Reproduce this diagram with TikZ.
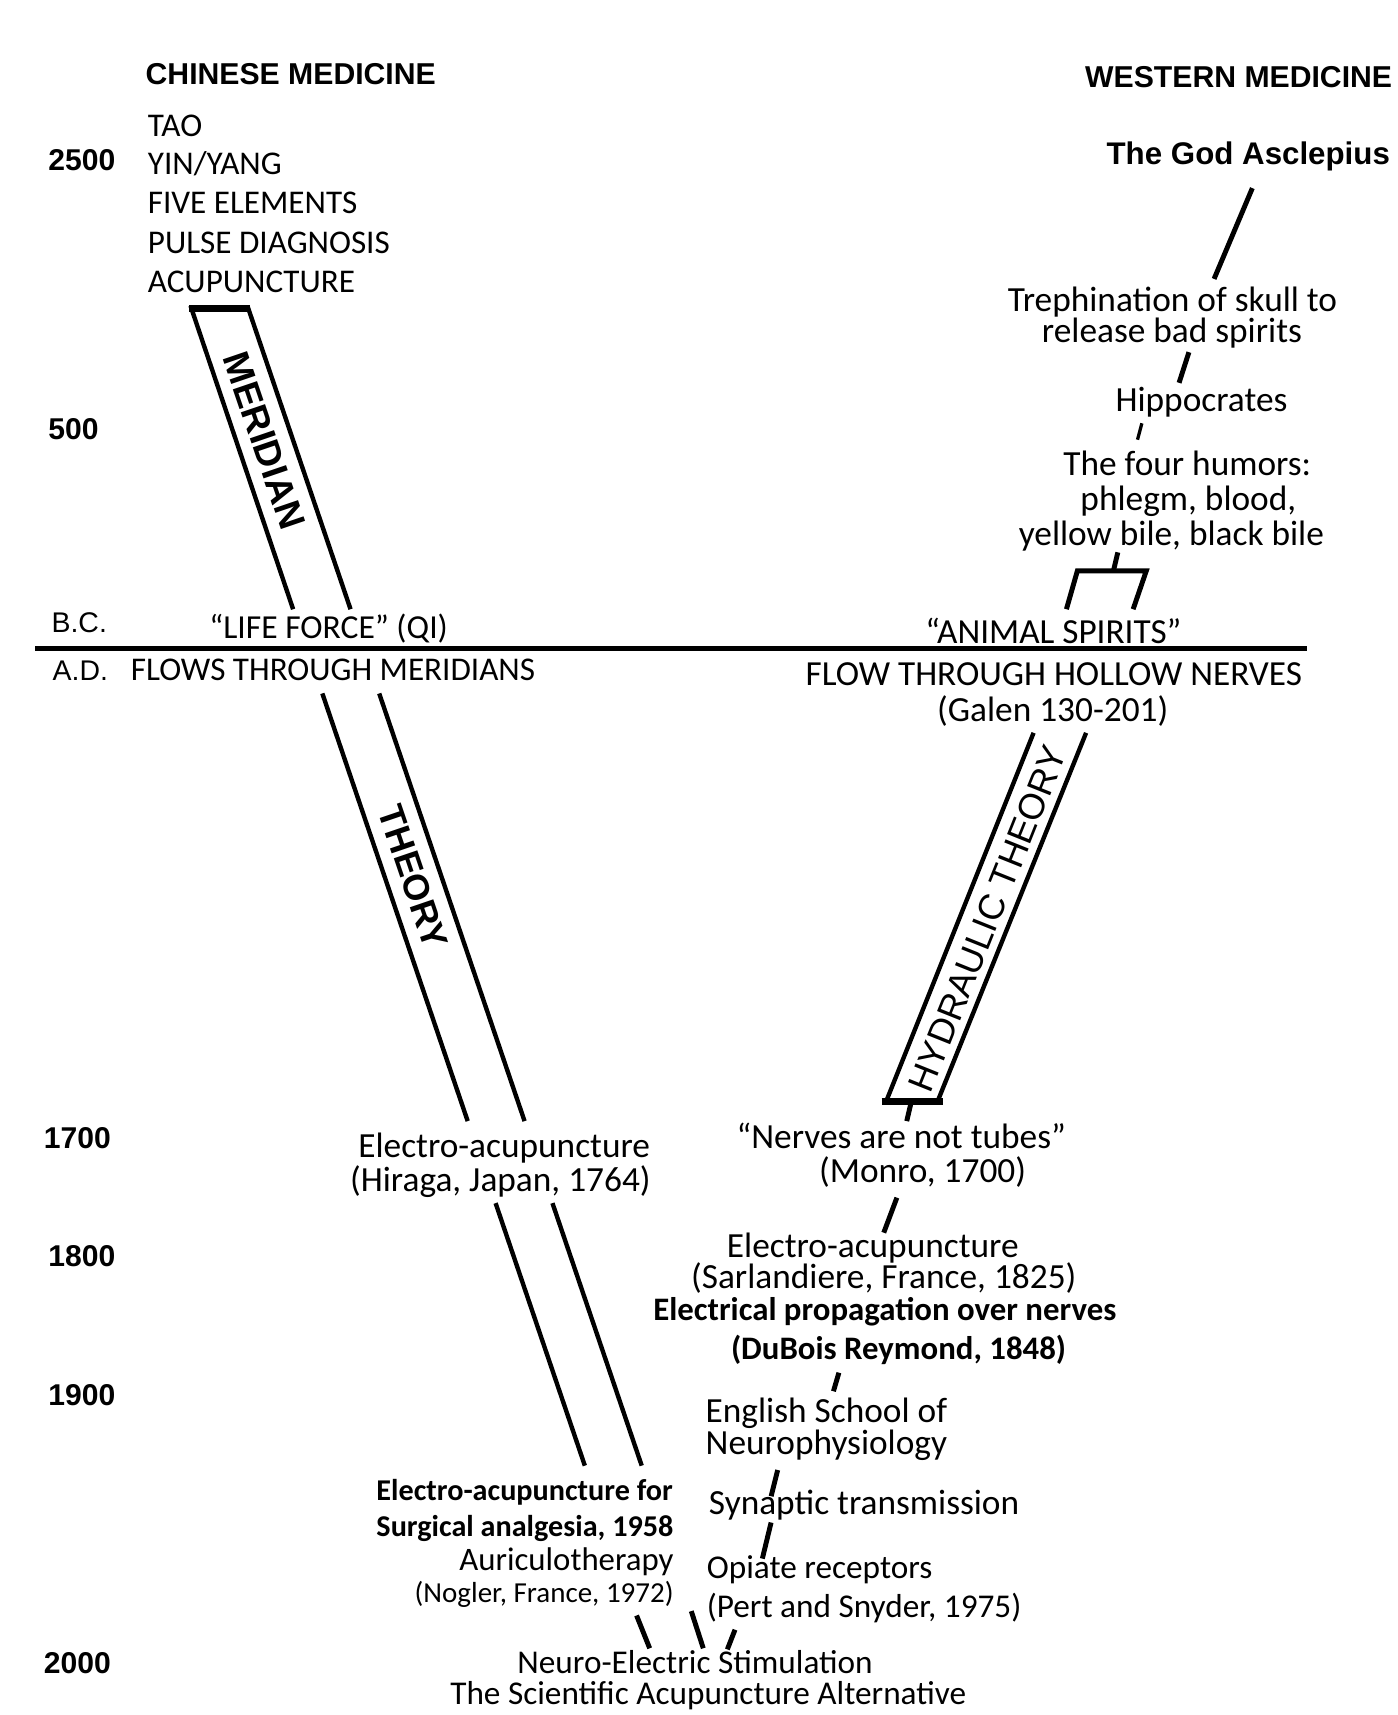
\documentclass[tikz,border=0pt]{standalone}
\usepackage{fontspec}
\setmainfont{Carlito}
\newfontfamily\arialf{Liberation Sans}
\begin{document}
\begin{tikzpicture}[x=1pt,y=-1pt,
  hd/.style={font=\arialf\bfseries\fontsize{27.6}{30}\selectfont, inner sep=0pt},
  yr/.style={font=\arialf\bfseries\fontsize{27.5}{30}\selectfont, inner sep=0pt, anchor=base west},
  era/.style={font=\arialf\fontsize{26}{30}\selectfont, inner sep=0pt, anchor=base west},
  caps/.style={font=\fontsize{30.3}{30}\selectfont, inner sep=0pt},
  bigcaps/.style={font=\fontsize{32.2}{32}\selectfont, inner sep=0pt},
  txt/.style={font=\fontsize{32.3}{32}\selectfont, inner sep=0pt},
  stxt/.style={font=\fontsize{30.4}{30}\selectfont, inner sep=0pt},
  btxt/.style={font=\bfseries\fontsize{30}{30}\selectfont, inner sep=0pt},
  band/.style={line width=4pt},
  bandlbl/.style={font=\arialf\fontsize{33}{33}\selectfont, inner sep=0pt},
  conn/.style={line width=4.5pt}
]
\path[use as bounding box, fill=white] (0,0) rectangle (1278,1568);

% headings
\node[hd, anchor=base west] (chn) at (133,77) {CHINESE MEDICINE};
\node[hd, anchor=base east] (wst) at (1273,80) {WESTERN MEDICINE};
\node[hd, font=\arialf\bfseries\fontsize{28.6}{30}\selectfont, anchor=base east] (god) at (1271,150) {The God Asclepius};

% chinese list
\node[caps, anchor=base west] (tao) at (135,124.5) {TAO};
\node[caps, anchor=base west] (yin) at (135,159.5) {YIN/YANG};
\node[caps, anchor=base west] (five) at (135,195.5) {FIVE ELEMENTS};
\node[caps, anchor=base west] (pulse) at (135,231.5) {PULSE DIAGNOSIS};
\node[caps, anchor=base west] (acu) at (135,267.5) {ACUPUNCTURE};

% years
\node[yr] (y2500) at (44,156) {2500};
\node[yr] (y500) at (44,402) {500};
\node[era] (bc) at (47,578) {B.C.};
\node[era] (ad) at (48,622) {A.D.};
\node[yr] (y1700) at (40,1050) {1700};
\node[yr] (y1800) at (44,1158) {1800};
\node[yr] (y1900) at (44,1285) {1900};
\node[yr] (y2000) at (40,1530) {2000};

% divider line
\coordinate (lineL) at (32,593);
\coordinate (lineR) at (1195,593);
\draw[line width=4.5pt] (lineL) -- (lineR);

% texts around the line
\node[caps, font=\fontsize{30.7}{30}\selectfont, anchor=base] (qi) at (300.5,583.5) {“LIFE FORCE” (QI)};
\node[caps, anchor=base] (flows) at (304.5,622.5) {FLOWS THROUGH MERIDIANS};
\node[bigcaps, anchor=base] (anim) at (963,588) {“ANIMAL SPIRITS”};
\node[bigcaps, anchor=base] (hollow) at (963.5,627) {FLOW THROUGH HOLLOW NERVES};
\node[txt, anchor=base] (galen) at (962.5,660) {(Galen 130-201)};

% meridian / theory band
\draw[band] (268,557) -- (175,282) -- (227,282) -- (320.5,557);
\draw[line width=6pt] (173,282) -- (229,282);
\draw[band] (294.7,634) -- (427.6,1025);
\draw[band] (346.7,634) -- (479.6,1025);
\draw[band] (453.1,1100) -- (534.7,1340);
\draw[band] (505.1,1100) -- (586.7,1340);
\node[bandlbl, font=\arialf\bfseries\fontsize{34}{34}\selectfont, rotate=-71.2] (mer) at (242,403) {MERIDIAN};
\node[bandlbl, font=\arialf\bfseries\fontsize{33}{33}\selectfont, rotate=-71.2] (theo) at (378,802) {THEORY};

% hydraulic band
\draw[band] (945,670) -- (810.2,1007) -- (857.2,1007) -- (993,670);
\draw[line width=6pt] (806,1007) -- (862,1007);
\node[bandlbl, rotate=68.2] (hyd) at (903,840) {HYDRAULIC THEORY};

% western column
\node[txt, anchor=base] (treph1) at (1072,285) {Trephination of skull to};
\node[txt, anchor=base] (treph2) at (1071.5,313) {release bad spirits};
\node[txt, anchor=base] (hipp) at (1098.5,376) {Hippocrates};
\node[txt, anchor=base] (hum1) at (1085.5,435) {The four humors:};
\node[txt, anchor=base] (hum2) at (1086.5,467) {phlegm, blood,};
\node[txt, anchor=base] (hum3) at (1071,499) {yellow bile, black bile};
\node[txt, anchor=base] (nerv1) at (824,1050) {“Nerves are not tubes”};
\node[txt, anchor=base] (nerv2) at (843.5,1081) {(Monro, 1700)};
\node[txt, anchor=base] (sarl1) at (798,1150) {Electro-acupuncture};
\node[txt, anchor=base] (sarl2) at (808,1178) {(Sarlandiere, France, 1825)};
\node[btxt, anchor=base] (dub1) at (809,1207) {Electrical propagation over nerves};
\node[btxt, anchor=base] (dub2) at (821.5,1243) {(DuBois Reymond, 1848)};
\node[txt, anchor=base west] (eng1) at (645,1301) {English School of};
\node[txt, anchor=base west] (eng2) at (645,1330) {Neurophysiology};
\node[txt, anchor=base west] (syn) at (648,1385) {Synaptic transmission};
\node[stxt, anchor=base west] (opi1) at (646,1443) {Opiate receptors};
\node[stxt, anchor=base west] (opi2) at (646,1479) {(Pert and Snyder, 1975)};

% left column lower
\node[txt, anchor=base] (hir1) at (461,1058) {Electro-acupuncture};
\node[txt, anchor=base] (hir2) at (457.5,1089) {(Hiraga, Japan, 1764)};
\node[btxt, font=\bfseries\fontsize{27.6}{27}\selectfont, anchor=base west] (surg1) at (344,1372) {Electro-acupuncture for};
\node[btxt, font=\bfseries\fontsize{27.6}{27}\selectfont, anchor=base west] (surg2) at (344,1405) {Surgical analgesia, 1958};
\node[txt, font=\fontsize{30}{30}\selectfont, anchor=base east] (auri) at (616,1436) {Auriculotherapy};
\node[txt, font=\fontsize{26.5}{26}\selectfont, anchor=base east] (nog) at (616,1465) {(Nogler, France, 1972)};

% bottom
\node[stxt, anchor=base] (nes1) at (635.5,1530) {Neuro-Electric Stimulation};
\node[stxt, anchor=base] (nes2) at (647.5,1558) {The Scientific Acupuncture Alternative};

% connectors
\coordinate (c1a) at (1145,172); \coordinate (c1b) at (1110,255);
\draw[conn] (c1a) -- (c1b);
\coordinate (c2a) at (1087,322); \coordinate (c2b) at (1078,350);
\draw[conn] (c2a) -- (c2b);
\coordinate (c3a) at (1044,387); \coordinate (c3b) at (1040,402);
\draw[line width=3pt] (c3a) -- (c3b);
\coordinate (c4a) at (1022,505); \coordinate (c4b) at (1018,522);
\draw[conn] (c4a) -- (c4b);
\coordinate (brL) at (985,522); \coordinate (brR) at (1048,522);
\coordinate (legL) at (975,557); \coordinate (legR) at (1036,557);
\draw[conn] (legL) -- (brL) -- (brR) -- (legR);
\coordinate (c5a) at (833,1008); \coordinate (c5b) at (829,1025);
\draw[conn] (c5a) -- (c5b);
\coordinate (c6a) at (820,1095); \coordinate (c6b) at (808,1127);
\draw[conn] (c6a) -- (c6b);
\coordinate (c7a) at (767,1255); \coordinate (c7b) at (762,1272);
\draw[conn] (c7a) -- (c7b);
\coordinate (c8a) at (711,1344); \coordinate (c8b) at (705,1368);
\draw[conn] (c8a) -- (c8b);
\coordinate (c9a) at (705,1392); \coordinate (c9b) at (697,1425);
\draw[conn] (c9a) -- (c9b);
\coordinate (c10a) at (672,1490); \coordinate (c10b) at (665,1508);
\draw[conn] (c10a) -- (c10b);
\coordinate (c11a) at (582,1477); \coordinate (c11b) at (594,1507);
\draw[conn] (c11a) -- (c11b);
\coordinate (c12a) at (632,1473); \coordinate (c12b) at (643,1507);
\draw[conn] (c12a) -- (c12b);
\end{tikzpicture}
\end{document}
